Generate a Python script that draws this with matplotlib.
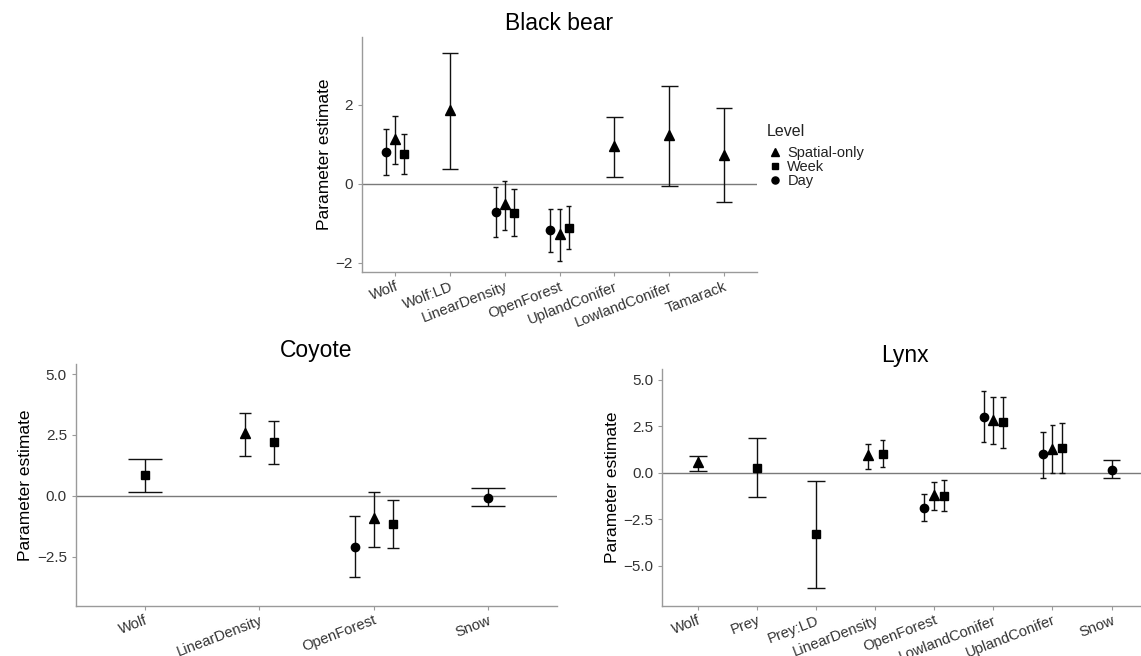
import numpy as np
import matplotlib
matplotlib.use("Agg")
import matplotlib.pyplot as plt
from matplotlib.lines import Line2D

plt.rcParams['font.family'] = ['Liberation Sans', 'DejaVu Sans']

nan = np.nan

# ---- Black bear ----
bear_terms = ['Wolf', 'Wolf:LD', 'LinearDensity', 'OpenForest', 'UplandConifer', 'LowlandConifer', 'Tamarack']
bear_spatial_est = [1.14, 1.86, -0.52, -1.28, 0.96, 1.25, 0.74]
bear_spatial_lo = [0.50, 0.38, -1.17, -1.96, 0.18, -0.05, -0.47]
bear_spatial_hi = [1.72, 3.31, 0.08, -0.63, 1.69, 2.49, 1.92]
bear_week_est = [0.77, nan, -0.73, -1.12, nan, nan, nan]
bear_week_lo = [0.26, nan, -1.32, -1.65, nan, nan, nan]
bear_week_hi = [1.26, nan, -0.14, -0.57, nan, nan, nan]
bear_day_est = [0.81, nan, -0.71, -1.17, nan, nan, nan]
bear_day_lo = [0.23, nan, -1.34, -1.72, nan, nan, nan]
bear_day_hi = [1.38, nan, -0.08, -0.63, nan, nan, nan]

# ---- Coyote ----
coy_terms = ['Wolf', 'LinearDensity', 'OpenForest', 'Snow']
coy_spatial_est = [nan, 2.57, -0.92, nan]
coy_spatial_lo = [nan, 1.65, -2.09, nan]
coy_spatial_hi = [nan, 3.40, 0.18, nan]
coy_week_est = [0.84, 2.20, -1.15, nan]
coy_week_lo = [0.16, 1.31, -2.13, nan]
coy_week_hi = [1.52, 3.09, -0.18, nan]
coy_day_est = [nan, nan, -2.08, -0.07]
coy_day_lo = [nan, nan, -3.31, -0.41]
coy_day_hi = [nan, nan, -0.81, 0.31]

# ---- Lynx ----
lynx_terms = ['Wolf', 'Prey', 'Prey:LD', 'LinearDensity', 'OpenForest', 'LowlandConifer', 'UplandConifer', 'Snow']
lynx_spatial_est = [0.55, nan, nan, 0.93, -1.22, 2.82, 1.30, nan]
lynx_spatial_lo = [0.09, nan, nan, 0.22, -1.99, 1.55, 0.00, nan]
lynx_spatial_hi = [0.89, nan, nan, 1.54, -0.50, 4.05, 2.54, nan]
lynx_week_est = [nan, 0.25, -3.32, 1.00, -1.24, 2.71, 1.34, nan]
lynx_week_lo = [nan, -1.32, -6.18, 0.29, -2.06, 1.32, 0.00, nan]
lynx_week_hi = [nan, 1.86, -0.45, 1.74, -0.39, 4.05, 2.66, nan]
lynx_day_est = [nan, nan, nan, nan, -1.88, 3.00, 0.98, 0.16]
lynx_day_lo = [nan, nan, nan, nan, -2.62, 1.63, -0.27, -0.30]
lynx_day_hi = [nan, nan, nan, nan, -1.15, 4.39, 2.21, 0.66]

levels = ['Day', 'Spatial-only', 'Week']
markers = {'Day': ('o', 6.0), 'Spatial-only': ('^', 7.0), 'Week': ('s', 5.6)}
legend_order = ['Spatial-only', 'Week', 'Day']

INK = '#111111'
SPINE = '#9a9a9a'


def draw_panel(ax, title, terms, series, yticks, ylabels, ylim):
    x = np.arange(len(terms))
    for j in range(len(terms)):
        present = [lv for lv in levels if not np.isnan(series[lv][0][j])]
        n = len(present)
        for k, lv in enumerate(present):
            est, lo, hi = series[lv][0][j], series[lv][1][j], series[lv][2][j]
            xp = x[j] + (k - (n - 1) / 2) * (0.5 / n)
            cap = 0.3 if n == 1 else 0.1
            ax.vlines(xp, lo, hi, color=INK, lw=1.0, zorder=3)
            ax.hlines([lo, hi], xp - cap / 2, xp + cap / 2, color=INK, lw=1.0, zorder=3)
            m, ms = markers[lv]
            ax.plot(xp, est, marker=m, ms=ms, color='black', ls='none', zorder=4)

    ax.axhline(0, color='#7a7a7a', lw=1.0, zorder=1)
    ax.set_xlim(-0.6, len(terms) - 0.4)
    ax.set_ylim(*ylim)
    ax.set_xticks(x)
    ax.set_xticklabels(terms, rotation=21, ha='right', rotation_mode='anchor')
    ax.set_yticks(yticks)
    ax.set_yticklabels(ylabels)
    ax.set_ylabel('Parameter estimate', fontsize=12.5, color='black', labelpad=2.5)
    ax.set_title(title, fontsize=16.5, pad=5)
    for s in ['top', 'right']:
        ax.spines[s].set_visible(False)
    for s in ['left', 'bottom']:
        ax.spines[s].set_color(SPINE)
        ax.spines[s].set_linewidth(1.0)
    ax.tick_params(axis='both', colors=SPINE, length=3, width=0.8,
                   labelcolor='#333333', labelsize=11)
    ax.tick_params(axis='x', pad=2.5, labelsize=10.6)


fig = plt.figure(figsize=(11.41, 6.56), dpi=100)

ax_bear = fig.add_axes([0.3173, 0.5854, 0.3462, 0.3582])
draw_panel(ax_bear, 'Black bear', bear_terms,
           {'Spatial-only': (bear_spatial_est, bear_spatial_lo, bear_spatial_hi),
            'Week': (bear_week_est, bear_week_lo, bear_week_hi),
            'Day': (bear_day_est, bear_day_lo, bear_day_hi)},
           [-2, 0, 2], ['\u22122', '0', '2'], (-2.23, 3.72))

ax_coy = fig.add_axes([0.0666, 0.0767, 0.4216, 0.3684])
draw_panel(ax_coy, 'Coyote', coy_terms,
           {'Spatial-only': (coy_spatial_est, coy_spatial_lo, coy_spatial_hi),
            'Week': (coy_week_est, coy_week_lo, coy_week_hi),
            'Day': (coy_day_est, coy_day_lo, coy_day_hi)},
           [-2.5, 0, 2.5, 5.0], ['\u22122.5', '0.0', '2.5', '5.0'], (-4.5, 5.41))

ax_lynx = fig.add_axes([0.5805, 0.0767, 0.4248, 0.3604])
draw_panel(ax_lynx, 'Lynx', lynx_terms,
           {'Spatial-only': (lynx_spatial_est, lynx_spatial_lo, lynx_spatial_hi),
            'Week': (lynx_week_est, lynx_week_lo, lynx_week_hi),
            'Day': (lynx_day_est, lynx_day_lo, lynx_day_hi)},
           [-5.0, -2.5, 0, 2.5, 5.0], ['\u22125.0', '\u22122.5', '0.0', '2.5', '5.0'], (-7.15, 5.56))

# legend: title as plain text, entries below it
ax_bear.text(1.025, 0.596, 'Level', transform=ax_bear.transAxes, fontsize=11.5,
             color='#222222', ha='left', va='center')
handles = [Line2D([], [], marker=markers[lv][0], ms=markers[lv][1] * 0.85, color='black', ls='none')
           for lv in legend_order]
leg = ax_bear.legend(handles, legend_order, loc='upper left',
                     bbox_to_anchor=(1.012, 0.567), frameon=False, fontsize=10.5,
                     handlelength=0.8, handletextpad=0.45,
                     labelspacing=0.0, borderpad=0)
for t in leg.get_texts():
    t.set_color('#222222')

fig.savefig('out.png', dpi=100)
